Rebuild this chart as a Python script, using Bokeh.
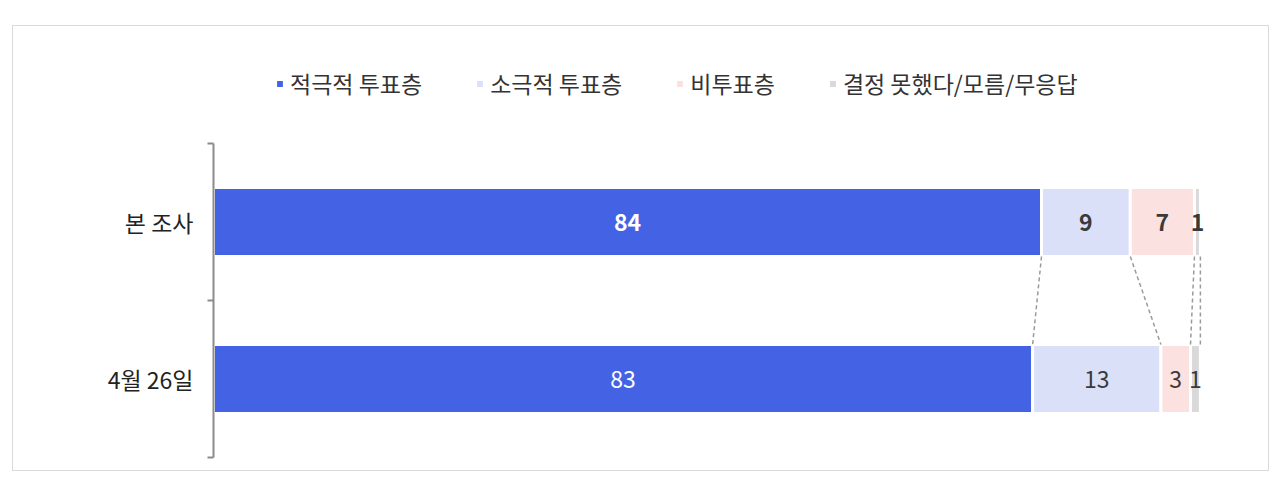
import numpy as np
from bokeh.plotting import figure
from bokeh.models import (ColumnDataSource, Range1d, LinearAxis, FixedTicker,
                          Legend)
from bokeh.core.properties import value
from bokeh.embed import file_html
from bokeh.resources import INLINE

# ---------------- data ----------------
categories = ["본 조사", "4월 26일"]
series = ["적극적 투표층", "소극적 투표층", "비투표층", "결정 못했다/모름/무응답"]
values_main = [83.9, 9.0, 6.5, 0.6]      # 본 조사 (bar lengths)
values_prev = [83.0, 13.0, 3.0, 1.0]     # 4월 26일
labels_main = ["84", "9", "7", "1"]
labels_prev = ["83", "13", "3", "1"]
colors = ["#4463E4", "#DAE0F8", "#FCE1E1", "#D9D9D9"]
label_colors = ["#FFFFFF", "#3A3A3A", "#3A3A3A", "#3A3A3A"]
y_pos = [1.5, 0.5]

FONT = "Noto Sans CJK KR"
BAR_H = 0.44
Y_TOP = 2 * 417 / 314

# ---------------- figure ----------------
p = figure(width=1257, height=446, output_backend="svg", toolbar_location=None,
           x_axis_type=None, y_axis_type=None,
           x_range=Range1d(0, 106.7), y_range=Range1d(0, Y_TOP),
           min_border_left=200, min_border_right=4,
           min_border_top=14, min_border_bottom=15)
p.outline_line_color = None
p.background_fill_color = "white"
p.border_fill_color = "white"
p.margin = (25, 0, 0, 12)
p.styles = {"border": "1px solid #DADADA"}

keys = ["s0", "s1", "s2", "s3"]
src = ColumnDataSource(dict(
    y=y_pos,
    s0=[values_main[0], values_prev[0]],
    s1=[values_main[1], values_prev[1]],
    s2=[values_main[2], values_prev[2]],
    s3=[values_main[3], values_prev[3]],
))
rs = p.hbar_stack(keys, y="y", height=BAR_H, source=src, color=colors,
                  line_color="white", line_width=3)

# connectors between cumulative boundaries
cm = np.cumsum(values_main)
cp = np.cumsum(values_prev)
p.segment(x0=list(cm), y0=[y_pos[0] - BAR_H / 2] * 4,
          x1=list(cp), y1=[y_pos[1] + BAR_H / 2] * 4,
          line_color="#9A9A9A", line_width=1.5, line_dash="4 3")

# value labels
def centers(vals):
    c = np.cumsum(vals)
    return list(c - np.array(vals) / 2)

top_src = ColumnDataSource(dict(x=centers(values_main), y=[y_pos[0]] * 4,
                                t=labels_main, c=label_colors))
bot_src = ColumnDataSource(dict(x=centers(values_prev), y=[y_pos[1]] * 4,
                                t=labels_prev, c=label_colors))
p.text(x="x", y="y", text="t", source=top_src, text_color="c",
       text_font=value(FONT), text_font_size="23px", text_font_style="bold",
       text_align="center", text_baseline="middle")
p.text(x="x", y="y", text="t", source=bot_src, text_color="c",
       text_font=value(FONT), text_font_size="23px", text_font_style="normal",
       text_align="center", text_baseline="middle")

# y axis: labels at bar centres, ticks at band boundaries
yaxis = LinearAxis(ticker=FixedTicker(ticks=y_pos, minor_ticks=[0, 1, 2]),
                   bounds=(0, 2))
yaxis.major_label_overrides = {y_pos[0]: categories[0], y_pos[1]: categories[1]}
yaxis.major_tick_out = 0
yaxis.major_tick_in = 0
yaxis.minor_tick_out = 6
yaxis.minor_tick_in = 0
yaxis.minor_tick_line_color = "#8C8C8C"
yaxis.minor_tick_line_width = 2
yaxis.axis_line_color = "#8C8C8C"
yaxis.axis_line_width = 2
yaxis.major_label_standoff = 14
yaxis.major_label_text_font = FONT
yaxis.major_label_text_font_size = "23px"
yaxis.major_label_text_color = "#222222"
p.add_layout(yaxis, "left")

# legend
legend = Legend(items=[(s, [r]) for s, r in zip(series, rs)],
                orientation="horizontal", location=(61, 357))
legend.glyph_width = 11
legend.glyph_height = 11
legend.label_standoff = 5
legend.spacing = 52
legend.padding = 0
legend.margin = 0
legend.border_line_color = None
legend.background_fill_alpha = 0
legend.label_text_font = FONT
legend.label_text_font_size = "23px"
legend.label_text_color = "#333333"
p.add_layout(legend, "center")

open("out.html", "w").write(file_html(p, INLINE))
